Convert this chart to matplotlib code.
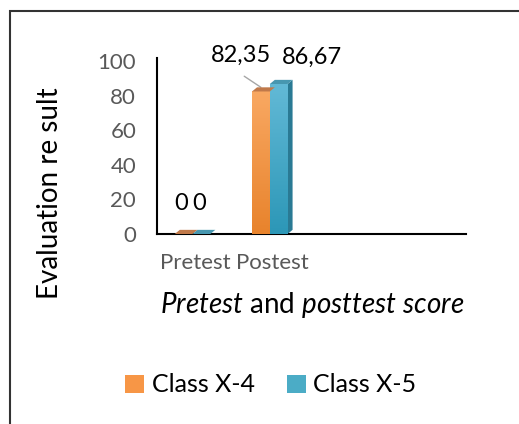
import matplotlib
matplotlib.use('Agg')
import matplotlib.pyplot as plt
import numpy as np
from matplotlib.colors import LinearSegmentedColormap
from matplotlib.patches import Polygon, Rectangle, Patch

plt.rcParams['font.family'] = ['Lato', 'DejaVu Sans']
plt.rcParams['mathtext.fontset'] = 'custom'
plt.rcParams['mathtext.rm'] = 'Lato'
plt.rcParams['mathtext.it'] = 'Lato:italic'

categories = ['Pretest', 'Postest', '', '']
series = ['Class X-4', 'Class X-5']
class_x4 = [0, 82.35]
class_x5 = [0, 86.67]
value_labels = [['0', '82,35'], ['0', '86,67']]
yticks = [0, 20, 40, 60, 80, 100]

front_top = ['#F9A862', '#62B9D6']
front_bot = ['#E8832C', '#2C97B7']
side_col = ['#B86A2C', '#2A7A94']
top_col = ['#C0794A', '#4797B0']
legend_col = ['#F79646', '#4BACC6']

fig = plt.figure(figsize=(5.19, 4.24), dpi=100)
ax = fig.add_axes([157 / 519, 1 - 234 / 424, 309 / 519, 176 / 424])

w = 0.23
shift = -0.04
dx, dy = 0.065, 2.4
offsets = [-w / 2 + shift, w / 2 + shift]

for s, vals in enumerate([class_x4, class_x5]):
    cmap = LinearSegmentedColormap.from_list('g%d' % s, [front_bot[s], front_top[s]])
    for i, v in enumerate(vals):
        xc = i + offsets[s]
        x0, x1 = xc - w / 2, xc + w / 2
        if v > 0:
            grad = np.linspace(0, 1, 100).reshape(-1, 1)
            ax.imshow(grad, extent=[x0, x1, 0, v], origin='lower', aspect='auto',
                      cmap=cmap, zorder=3)
            # right side
            ax.add_patch(Polygon([[x1, 0], [x1 + dx, dy], [x1 + dx, v + dy], [x1, v]],
                                 closed=True, facecolor=side_col[s], edgecolor='none', zorder=2.5))
        # top face
        ax.add_patch(Polygon([[x0, v], [x0 + dx, v + dy], [x1 + dx, v + dy], [x1, v]],
                             closed=True, facecolor=top_col[s], edgecolor='none', zorder=3.5))

# value labels
label_off = {(0, 0): (-1.5, 22), (1, 0): (-1.5, 22), (0, 1): (-14, 26), (1, 1): (24, 19.5)}
for s, vals in enumerate([class_x4, class_x5]):
    for i, v in enumerate(vals):
        ax.annotate(value_labels[s][i], xy=(i + offsets[s], v), xytext=label_off[(s, i)],
                    textcoords='offset points', ha='center', va='center',
                    fontsize=17, color='black', zorder=5, annotation_clip=False)

# leader line for 82,35
ax.annotate('', xy=(1 + offsets[0], class_x4[1] + dy), xytext=(-12, 8),
            textcoords='offset points',
            arrowprops=dict(arrowstyle='-', color='#A6A6A6', lw=1.0, shrinkA=0, shrinkB=0))

ax.set_xlim(-0.5, 3.5)
ax.set_ylim(0, 101.7)
ax.set_xticks(range(len(categories)))
ax.set_xticklabels(categories)
ax.set_yticks(yticks)
ax.tick_params(axis='both', length=0, colors='#595959', labelsize=16)
ax.tick_params(axis='x', pad=14)
ax.tick_params(axis='y', pad=15)
for sp in ['top', 'right']:
    ax.spines[sp].set_visible(False)
for sp in ['left', 'bottom']:
    ax.spines[sp].set_linewidth(1.5)
    ax.spines[sp].set_color('black')

fig.text(50 / 519, 1 - 193 / 424, 'Evaluation re sult', rotation=90, ha='center', va='center',
         fontsize=20, color='black')
fig.text(312 / 519, 1 - 305 / 424, r'$\mathit{Pretest}$ and $\mathit{posttest\ score}$',
         ha='center', va='center', fontsize=20, color='black')

handles = [Patch(facecolor=c, edgecolor='none') for c in legend_col]
fig.legend(handles, series, loc='center', bbox_to_anchor=(271 / 519, 1 - 385 / 424),
           ncol=2, frameon=False, fontsize=18, handlelength=0.75, handleheight=0.75,
           handletextpad=0.3, columnspacing=1.3)

# outer border
fig.add_artist(Rectangle((10 / 519, -0.1), 1.2, 1 - 11 / 424 + 0.1, transform=fig.transFigure,
                         fill=False, edgecolor='#333333', linewidth=1.5))

fig.savefig('out.png', dpi=100)
